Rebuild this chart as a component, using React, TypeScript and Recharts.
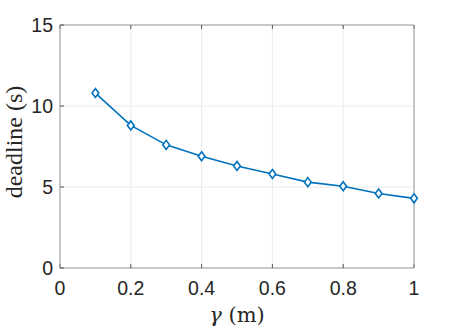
import { LineChart, Line, XAxis, YAxis, CartesianGrid } from 'recharts'

// gamma (m) vs deadline (s)
const gamma = [0.1, 0.2, 0.3, 0.4, 0.5, 0.6, 0.7, 0.8, 0.9, 1.0]
const deadline = [10.8, 8.8, 7.6, 6.9, 6.3, 5.8, 5.3, 5.05, 4.6, 4.3]
const xTicks = [0, 0.2, 0.4, 0.6, 0.8, 1]
const yTicks = [0, 5, 10, 15]

const data = gamma.map((g, i) => ({ g, d: deadline[i] }))

const AXIS = '#9a9a9a'
const GRID = '#ebebeb'
const BLUE = '#0072BD'
const tickFont = { fill: '#262626', fontSize: 19.5, fontFamily: 'Liberation Sans, Arial, sans-serif' }

const Diamond = (p: any) => {
  const { cx, cy } = p
  if (cx == null || cy == null) return null
  const r = 4.5
  return (
    <path
      d={`M${cx},${cy - r} L${cx + r * 0.75},${cy} L${cx},${cy + r} L${cx - r * 0.75},${cy} Z`}
      fill="#fff"
      stroke={BLUE}
      strokeWidth={1.6}
    />
  )
}

const fmtX = (v: number) => (v === 0 || v === 1 ? String(v) : v.toFixed(1))

export default function App() {
  return (
    <div style={{ position: 'absolute', left: 0, top: 0, width: 457, height: 329, background: '#fff' }}>
      <LineChart
        width={457}
        height={329}
        data={data}
        margin={{ top: 24, right: 42, left: 10, bottom: 21 }}
      >
        <CartesianGrid stroke={GRID} strokeWidth={1} horizontalValues={yTicks} verticalValues={xTicks} />
        <XAxis
          dataKey="g"
          type="number"
          domain={[0, 1]}
          ticks={xTicks}
          tickFormatter={fmtX}
          height={40}
          tickSize={-4}
          tickMargin={17}
          tick={tickFont}
          axisLine={{ stroke: AXIS }}
          tickLine={{ stroke: '#555' }}
          interval={0}
        />
        <XAxis
          xAxisId="top"
          dataKey="g"
          type="number"
          orientation="top"
          domain={[0, 1]}
          ticks={xTicks}
          tickFormatter={() => ''}
          height={1}
          tickSize={-4}
          axisLine={{ stroke: AXIS }}
          tickLine={{ stroke: '#555' }}
        />
        <YAxis
          type="number"
          domain={[0, 15]}
          ticks={yTicks}
          width={50}
          tickSize={-4}
          tickMargin={11}
          tick={tickFont}
          axisLine={{ stroke: AXIS }}
          tickLine={{ stroke: '#555' }}
          interval={0}
        />
        <YAxis
          yAxisId="right"
          type="number"
          orientation="right"
          domain={[0, 15]}
          ticks={yTicks}
          tickFormatter={() => ''}
          width={1}
          tickSize={-4}
          axisLine={{ stroke: AXIS }}
          tickLine={{ stroke: '#555' }}
        />
        <Line
          dataKey="d"
          stroke={BLUE}
          strokeWidth={1.6}
          dot={<Diamond />}
          activeDot={false}
          isAnimationActive={false}
        />
        <text
          x={237}
          y={322}
          textAnchor="middle"
          fontSize={21}
          fontFamily="DejaVu Serif, Liberation Serif, serif"
          fill="#262626"
        >
          <tspan fontStyle="italic">γ</tspan> (m)
        </text>
        <text
          x={0}
          y={0}
          transform="translate(22,142) rotate(-90)"
          textAnchor="middle"
          fontSize={24}
          fontFamily="Liberation Serif, DejaVu Serif, serif"
          fill="#262626"
        >
          deadline (s)
        </text>
      </LineChart>
    </div>
  )
}
